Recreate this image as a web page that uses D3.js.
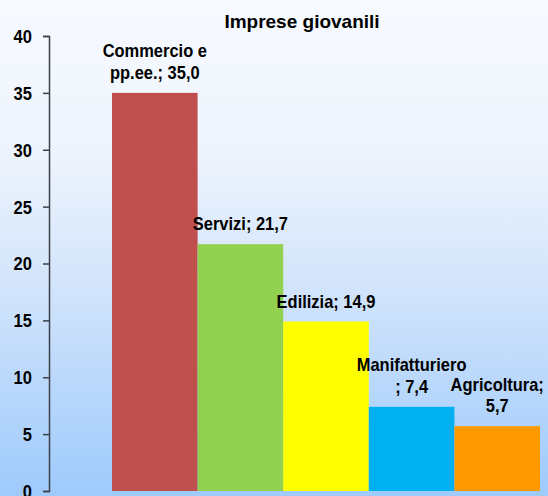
<!DOCTYPE html>
<html><head><meta charset="utf-8">
<script src="https://cdn.jsdelivr.net/npm/d3@7"></script>
<style>
html,body{margin:0;padding:0;background:#fff;}
svg{display:block;}
text{font-family:"Liberation Sans",Arial,sans-serif;font-weight:bold;fill:#000;}
</style></head>
<body>
<script>
const title = "Imprese giovanili";
const categories = ["Commercio e pp.ee.", "Servizi", "Edilizia", "Manifatturiero", "Agricoltura"];
const values = [35.0, 21.7, 14.9, 7.4, 5.7];
const labelLines = [["Commercio e", "pp.ee.; 35,0"], ["Servizi; 21,7"], ["Edilizia; 14,9"], ["Manifatturiero", "; 7,4"], ["Agricoltura;", "5,7"]];
const colors = ["#C0504D", "#92D050", "#FFFF00", "#00B0F0", "#FF9900"];
const yTicks = [0, 5, 10, 15, 20, 25, 30, 35, 40];

const W = 548, H = 496;
const svg = d3.select("body").append("svg").attr("width", W).attr("height", H);

const defs = svg.append("defs");
const grad = defs.append("linearGradient").attr("id", "bg").attr("x1", 0).attr("y1", 0).attr("x2", 0).attr("y2", 1);
[[0, "#f7faff"], [0.3, "#eef4fd"], [0.55, "#d5e6fb"], [1, "#9ecafc"]].forEach(([o, c]) =>
  grad.append("stop").attr("offset", o).attr("stop-color", c));
svg.append("rect").attr("width", W).attr("height", H).attr("fill", "url(#bg)");

const y = d3.scaleLinear().domain([0, 40]).range([491, 36]);
const x = d3.scaleBand().domain(categories).range([112, 540]).padding(0);

// bars
svg.append("g").selectAll("rect").data(categories).join("rect")
  .attr("x", d => x(d))
  .attr("y", (d, i) => y(values[i]))
  .attr("width", x.bandwidth())
  .attr("height", (d, i) => y(0) - y(values[i]))
  .attr("fill", (d, i) => colors[i]);

// y axis
const yAxis = d3.axisLeft(y).tickValues(yTicks).tickSize(6).tickPadding(10).tickFormat(d3.format("d"));
const ga = svg.append("g").attr("transform", "translate(49,0)").call(yAxis);
ga.select(".domain").attr("stroke", "#3c4048").attr("stroke-width", 1.5);
ga.selectAll(".tick line").attr("stroke", "#3c4048").attr("stroke-width", 1.5);
ga.selectAll(".tick text")
  .style("font-family", "'Liberation Sans',Arial,sans-serif")
  .style("font-weight", "bold")
  .style("font-size", "18px")
  .attr("fill", "#000")
  .attr("dy", "0.36em")
  .attr("transform", function() { return "scale(0.92,1)"; })
  .attr("x", -17 / 0.92);

// data labels
const lineH = 21.5;
const lg = svg.append("g");
categories.forEach((c, i) => {
  const cx = x(c) + x.bandwidth() / 2;
  const lines = labelLines[i];
  const lastBase = y(values[i]) - 14;
  lines.forEach((t, j) => {
    const by = lastBase - (lines.length - 1 - j) * lineH;
    lg.append("text")
      .attr("transform", `translate(${cx},${by}) scale(0.89,1)`)
      .attr("text-anchor", "middle")
      .style("font-size", "18.5px")
      .text(t);
  });
});

// title
svg.append("text").attr("x", 302).attr("y", 28).attr("text-anchor", "middle")
  .style("font-size", "19px").text(title);
</script>
</body></html>
